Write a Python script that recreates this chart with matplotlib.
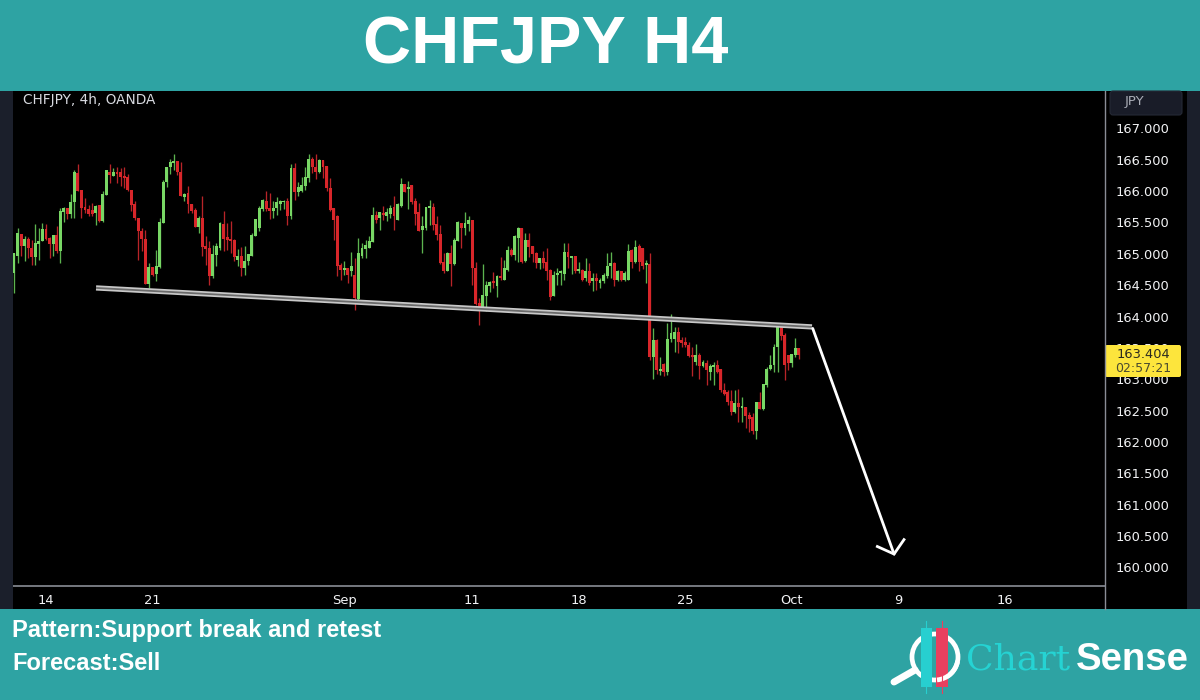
import matplotlib
matplotlib.use("Agg")
import matplotlib.pyplot as plt
from matplotlib.patches import Rectangle, FancyBboxPatch, Arc, Circle

opens = [164.69,164.97,165.32,165.12,165.23,165.10,164.95,165.16,165.20,165.40,
165.25,165.16,165.30,165.04,165.67,165.73,165.64,165.82,166.29,166.02,
165.74,165.72,165.70,165.65,165.78,165.52,165.94,166.31,166.24,166.31,
166.31,166.24,166.23,166.02,165.80,165.57,165.37,165.23,164.52,164.79,
164.68,164.79,165.49,166.15,166.38,166.45,166.48,166.31,165.90,165.97,
165.79,165.70,165.43,165.57,165.12,165.10,164.65,164.98,165.10,165.48,
165.27,165.23,165.22,164.90,164.96,164.77,164.89,164.97,165.29,165.41,
165.71,165.85,165.73,165.69,165.73,165.80,165.82,165.84,165.60,166.37,
165.99,166.01,166.09,166.21,166.51,166.39,166.31,166.49,166.40,166.05,
165.73,165.60,164.82,164.74,164.77,164.72,164.66,164.28,164.97,165.08,
165.10,165.19,165.62,165.57,165.65,165.61,165.63,165.74,165.54,165.77,
166.11,166.04,166.10,165.85,165.66,165.38,165.41,165.73,165.74,165.47,
165.31,164.87,164.72,165.01,164.83,165.21,165.49,165.41,165.47,165.54,
164.77,164.21,164.11,164.33,164.48,164.56,164.49,164.62,164.59,164.74,
165.06,164.98,165.26,165.42,164.89,165.22,165.13,165.02,164.86,164.93,
164.87,164.74,164.33,164.66,164.69,164.68,165.03,164.94,164.97,164.72,
164.74,164.61,164.72,164.56,164.61,164.54,164.56,164.64,164.80,164.86,
164.58,164.72,164.59,164.59,165.06,164.87,165.13,165.09,164.82,164.84,
163.36,163.62,163.13,163.25,163.12,163.64,163.64,163.76,163.62,163.60,
163.55,163.39,163.28,163.39,163.21,163.26,163.12,163.20,163.23,163.17,
162.83,162.80,162.65,162.47,162.62,162.54,162.55,162.43,162.39,162.18,
162.63,162.52,162.91,163.16,163.23,163.52,163.89,163.71,163.39,163.26,
163.39,163.49]
highs = [165.01,165.41,165.32,165.29,165.27,165.22,165.48,165.41,165.49,165.48,
165.27,165.30,165.45,165.73,165.74,165.73,165.96,166.34,166.44,166.02,
165.89,165.78,165.81,165.78,165.78,166.01,166.33,166.44,166.37,166.39,
166.37,166.39,166.28,166.02,165.84,165.57,165.41,165.38,164.85,164.79,
165.06,165.57,166.18,166.39,166.51,166.60,166.48,166.46,165.97,166.09,
165.79,165.73,165.60,165.92,165.28,165.21,165.14,165.17,165.50,165.68,
165.49,165.52,165.23,165.07,165.11,165.12,165.00,165.33,165.55,165.76,
165.87,166.01,165.97,165.84,165.90,165.86,165.86,165.89,166.44,166.45,
166.15,166.23,166.39,166.60,166.54,166.60,166.51,166.50,166.40,166.21,
165.73,165.62,164.85,164.89,164.77,165.03,164.93,165.25,165.17,165.22,
165.28,165.75,165.69,165.67,165.77,165.73,165.78,165.93,165.81,166.21,
166.11,166.16,166.10,165.89,165.81,165.60,165.75,165.86,165.81,165.60,
165.46,165.01,165.03,165.14,165.25,165.52,165.49,165.66,165.60,165.54,
164.87,164.30,164.83,164.56,164.56,164.71,164.66,164.95,164.90,165.13,
165.09,165.30,165.43,165.42,165.34,165.33,165.13,165.03,164.94,165.05,
165.09,164.75,164.72,164.78,164.74,165.18,165.17,164.97,164.97,164.87,
164.75,164.93,164.86,164.70,164.70,164.61,164.69,165.02,165.03,164.87,
164.74,164.73,164.72,165.16,165.07,165.22,165.16,165.09,164.90,165.02,
163.81,163.64,163.36,163.26,163.89,164.04,163.84,163.84,163.67,163.68,
163.60,163.52,163.56,163.41,163.31,163.31,163.25,163.28,163.30,163.17,
162.94,162.82,162.83,162.83,162.84,162.72,162.55,162.48,162.46,162.64,
162.79,162.92,163.20,163.39,163.56,163.90,163.90,163.73,163.39,163.40,
163.65,163.49]
lows = [164.37,164.85,164.96,164.88,164.93,164.82,164.82,164.90,165.20,165.22,
164.93,164.96,165.01,164.85,165.50,165.55,165.57,165.57,166.01,165.57,
165.65,165.61,165.60,165.46,165.50,165.50,165.94,166.13,166.24,166.13,
166.09,166.05,166.01,165.68,165.54,164.90,165.04,164.52,164.45,164.65,
164.56,164.77,165.49,166.07,166.28,166.34,166.26,165.92,165.84,165.65,
165.65,165.43,165.33,164.96,164.82,164.51,164.61,164.80,165.06,165.04,
165.06,165.01,164.88,164.80,164.65,164.66,164.82,164.96,165.28,165.36,
165.69,165.69,165.55,165.57,165.62,165.70,165.71,165.46,165.55,165.86,
165.93,165.99,166.02,166.15,166.29,166.19,166.29,166.21,166.00,165.68,
165.22,164.64,164.58,164.66,164.53,164.64,164.11,164.24,164.93,164.93,
165.10,165.19,165.49,165.38,165.54,165.52,165.57,165.38,165.54,165.74,
165.98,165.72,165.79,165.46,165.36,165.01,165.38,165.46,165.38,165.22,
164.83,164.69,164.72,164.48,164.82,165.20,165.10,165.30,165.36,164.50,
164.19,163.87,164.11,164.09,164.39,164.45,164.31,164.59,164.58,164.73,
164.97,164.90,164.87,164.86,164.87,164.95,164.87,164.77,164.75,164.77,
164.58,164.26,164.32,164.50,164.50,164.59,164.77,164.68,164.70,164.70,
164.57,164.57,164.50,164.40,164.42,164.45,164.53,164.62,164.62,164.49,
164.57,164.56,164.57,164.58,164.77,164.86,164.72,164.75,164.54,163.31,
163.00,163.08,163.07,163.05,163.07,163.60,163.44,163.42,163.51,163.51,
163.35,163.05,163.23,163.01,163.20,162.91,162.99,162.91,163.10,162.80,
162.75,162.59,162.43,162.46,162.32,162.31,162.22,162.16,162.13,162.04,
162.52,162.51,162.87,163.15,163.11,163.12,163.63,162.98,163.14,163.20,
163.36,163.32]
closes = [165.01,165.33,165.12,165.23,165.10,164.95,165.17,165.21,165.40,165.23,
165.16,165.30,165.04,165.68,165.73,165.64,165.82,166.31,166.01,165.73,
165.70,165.64,165.64,165.77,165.52,165.96,166.33,166.26,166.31,166.28,
166.23,166.21,166.02,165.78,165.57,165.36,165.23,164.52,164.79,164.66,
164.80,165.50,166.15,166.38,166.46,166.48,166.31,165.93,165.96,165.79,
165.68,165.43,165.57,165.11,165.07,164.65,165.00,165.12,165.49,165.23,
165.22,165.21,164.95,164.96,164.77,164.89,165.00,165.30,165.55,165.73,
165.86,165.71,165.69,165.73,165.82,165.84,165.84,165.61,166.37,165.99,
166.06,166.10,166.23,166.51,166.38,166.31,166.50,166.39,166.05,165.70,
165.54,164.80,164.74,164.77,164.67,164.80,164.29,165.01,165.09,165.14,
165.20,165.62,165.54,165.67,165.62,165.67,165.73,165.61,165.79,166.11,
165.99,166.07,165.82,165.63,165.36,165.44,165.74,165.74,165.46,165.30,
164.85,164.72,165.01,164.83,165.22,165.50,165.41,165.49,165.54,164.77,
164.20,164.12,164.34,164.50,164.55,164.53,164.64,164.61,164.77,165.06,
164.98,165.28,165.42,164.87,165.22,165.11,165.00,164.86,164.93,164.85,
164.72,164.31,164.66,164.70,164.70,165.03,164.95,164.97,164.72,164.73,
164.59,164.72,164.53,164.61,164.56,164.59,164.66,164.81,164.86,164.58,
164.72,164.58,164.70,165.05,164.87,165.11,164.87,164.80,164.84,163.36,
163.62,163.14,163.15,163.12,163.64,163.73,163.76,163.60,163.58,163.55,
163.37,163.36,163.39,163.21,163.28,163.14,163.21,163.21,163.11,162.82,
162.76,162.64,162.48,162.62,162.55,162.55,162.41,162.36,162.18,162.63,
162.52,162.92,163.17,163.23,163.52,163.89,163.69,163.23,163.26,163.40,
163.49,163.39]

price_ticks = [160,160.5,161,161.5,162,162.5,163,163.5,164,164.5,165,165.5,166,166.5,167]
time_pos = [9,39,93,129,159,189,219,249,279]
time_labels = ["14","21","Sep","11","18","25","Oct","9","16"]
trend_x = [23.1,224.7]
trend_y = [164.456,163.834]
arrow_x = [224.9,247.8]
arrow_y = [163.81,160.21]
head_x = [243.1,247.8,250.6]
head_y = [160.33,160.21,160.44]

W,H = 1200,700
TEAL = "#2ea3a3"
DARK = "#1b1f2b"
GREEN = "#78d765"
RED = "#d8262a"
BOLD = "Liberation Sans"
fig = plt.figure(figsize=(12,7),dpi=100,facecolor="black")

ax = fig.add_axes([13/W,(H-586)/H,(1105-13)/W,(586-91)/H],facecolor="black",zorder=1)
ax.set_xlim(-0.28,307.2)
ax.set_ylim(159.70,167.598)
for s in ax.spines.values():
    s.set_visible(False)
ax.spines["bottom"].set_visible(True)
ax.spines["bottom"].set_color("#8a8d96")
ax.spines["bottom"].set_linewidth(1.2)
ax.yaxis.tick_right()
ax.set_yticks(price_ticks)
ax.set_yticklabels([f"{p:.3f}" for p in price_ticks])
ax.set_xticks(time_pos)
ax.set_xticklabels(time_labels)
ax.tick_params(axis="both",length=0,colors="#f2f3f5",labelsize=9.4)
ax.tick_params(axis="y",pad=7.5)
ax.tick_params(axis="x",pad=6)

idx = list(range(len(opens)))
cols = [GREEN if c>=o else RED for o,c in zip(opens,closes)]
wick = ["#5cb34f" if c>=o else "#b82428" for o,c in zip(opens,closes)]
ax.vlines(idx,lows,highs,colors=wick,linewidth=0.95,zorder=2)
ax.bar(idx,[abs(c-o) if abs(c-o)>0.03 else 0.03 for o,c in zip(opens,closes)],
       bottom=[min(o,c) for o,c in zip(opens,closes)],width=0.82,color=cols,linewidth=0,zorder=3)
ax.plot(trend_x,trend_y,color="#c8c8c8",lw=3.8,solid_capstyle="butt",zorder=4)
ax.plot(trend_x,trend_y,color="#6a6a6a",lw=1.3,solid_capstyle="butt",zorder=5)
ax.plot(arrow_x,arrow_y,color="white",lw=2.0,solid_capstyle="round",zorder=6)
ax.plot(head_x,head_y,color="white",lw=2.0,solid_joinstyle="miter",zorder=6)

ov = fig.add_axes([0,0,1,1],facecolor="none",zorder=5)
ov.set_xlim(0,W); ov.set_ylim(H,0); ov.axis("off")
ov.add_patch(Rectangle((0,0),W,91,color=TEAL,lw=0))
ov.add_patch(Rectangle((0,609),W,91,color=TEAL,lw=0))
ov.add_patch(Rectangle((0,91),13,518,color=DARK,lw=0))
ov.add_patch(Rectangle((1187,91),13,518,color=DARK,lw=0))
ov.plot([1105,1105],[91,609],color="#8a8d96",lw=1.0)
ov.add_patch(FancyBboxPatch((1110,91),72,24,boxstyle="round,pad=0,rounding_size=3",fc="#191c28",ec="#252935",lw=0.8))
ov.text(1134,101.5,"JPY",color="#a9acb6",fontsize=9.5,family="DejaVu Sans",ha="center",va="center")
ov.text(23,100,"CHFJPY, 4h, OANDA",color="#d8dae0",fontsize=9.8,family="DejaVu Sans",ha="left",va="center")
ov.add_patch(FancyBboxPatch((1105,345),76,32,boxstyle="round,pad=0,rounding_size=2",fc="#fde53c",ec="none"))
ov.text(1143,354,"163.404",color="#2b2b20",fontsize=9.4,ha="center",va="center")
ov.text(1143,368.5,"02:57:21",color="#4a4a30",fontsize=9.0,ha="center",va="center")

ov.text(546,47,"CHFJPY H4",color="white",fontsize=48,fontweight="bold",family=BOLD,ha="center",va="center")
ov.text(12,631,"Pattern:Support break and retest",color="white",fontsize=17,fontweight="bold",family=BOLD,ha="left",va="center")
ov.text(12,664,"Forecast:Sell",color="white",fontsize=17,fontweight="bold",family=BOLD,ha="left",va="center")

ov.add_patch(Circle((935,657),23,fc="none",ec="white",lw=3.4))
ov.plot([894,915],[682,670],color="white",lw=5,solid_capstyle="round")
ov.plot([926,926],[621,693],color="#27cfd0",lw=0.8)
ov.plot([942,942],[621,693],color="#e8405f",lw=0.8)
ov.add_patch(Rectangle((921,628),11,59,color="#27cfd0",lw=0))
ov.add_patch(Rectangle((936,628),12,59,color="#e8405f",lw=0))
ov.add_patch(Arc((935,657),46,46,theta1=10,theta2=85,ec="white",lw=3.4))
ov.text(966,660,"Chart",color="#25d3d3",fontsize=26,family="DejaVu Serif",ha="left",va="center")
ov.text(1076,660,"Sense",color="white",fontsize=27.5,family=BOLD,fontweight="bold",ha="left",va="center")

fig.savefig("out.png",dpi=100,facecolor="black")
